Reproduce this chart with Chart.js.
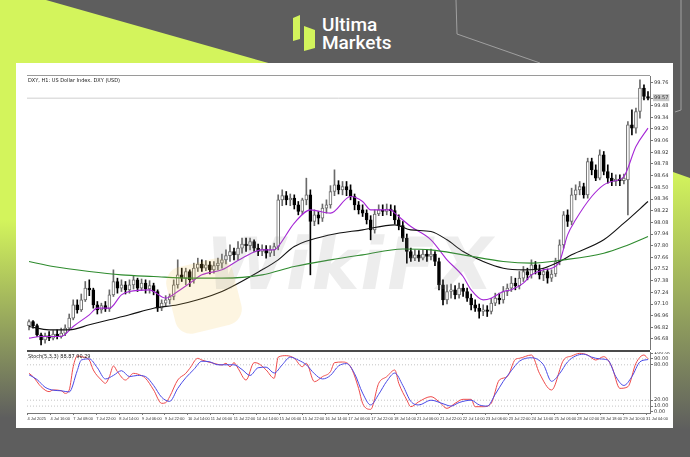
<!DOCTYPE html>
<html>
<head>
<meta charset="utf-8">
<script src="https://cdn.jsdelivr.net/npm/chart.js@4.4.1/dist/chart.umd.min.js"></script>
<style>
  html, body { margin: 0; padding: 0; }
  body { width: 690px; height: 457px; position: relative; overflow: hidden; background: #5e5e5e; font-family: 'DejaVu Sans', sans-serif; }
  #bg { position: absolute; left: 0; top: 0; }
  #panel { position: absolute; left: 16px; top: 63px; width: 657px; height: 365px; background: #fff; }
  canvas { position: absolute; }
  .rule { position: absolute; }
  .tiny { position: absolute; font-size: 10px; color: #222; white-space: nowrap; transform: scale(0.5); transform-origin: 0 0; }
  #wm { position: absolute; left: 206px; top: 222px; font: bold 72px 'DejaVu Sans', sans-serif; color: rgba(140,140,140,0.16); transform: skewX(-10deg); letter-spacing: 1px; pointer-events: none; }
  #wmIcon { position: absolute; left: 170px; top: 262px; width: 68px; height: 68px; border-radius: 16px; background: rgba(240,190,70,0.16); transform: rotate(-14deg); pointer-events: none; }
</style>
</head>
<body>
<svg id="bg" width="690" height="457">
  <defs>
    <linearGradient id="limeL" x1="0" y1="0" x2="0" y2="440" gradientUnits="userSpaceOnUse">
      <stop offset="0" stop-color="#d3f45c"/>
      <stop offset="0.5" stop-color="#d3f45c"/>
      <stop offset="0.95" stop-color="#5e5e5e"/>
    </linearGradient>
    <linearGradient id="limeR" x1="0" y1="172" x2="0" y2="430" gradientUnits="userSpaceOnUse">
      <stop offset="0" stop-color="#d3f45c"/>
      <stop offset="1" stop-color="#5e5e5e"/>
    </linearGradient>
  </defs>
  <polygon points="0,0 46,0 272,64 16,64 16,440 0,440" fill="url(#limeL)"/>
  <polygon points="673,172 690,178 690,440 673,440" fill="url(#limeR)"/>
  <polyline points="456,0 457,34 540,63" fill="none" stroke="#a0a0a0" stroke-width="1"/>
  <polyline points="681,0 681,110 675,112" fill="none" stroke="#a0a0a0" stroke-width="1"/>
  <polygon points="293,18 300,15 300,39 293,41" fill="#d3f45c"/>
  <polygon points="304,26 315,30 315,48 304,51" fill="#d3f45c"/>
  <text x="322" y="31" font-family="Roboto" font-weight="500" font-size="19" fill="#fff">Ultima</text>
  <text x="322" y="49" font-family="Roboto" font-weight="500" font-size="19" fill="#fff">Markets</text>
</svg>
<div id="panel"></div>
<div class="rule" style="left:27px;top:75px;width:623px;height:1px;background:#9a9a9a"></div>
<div class="rule" style="left:27px;top:350px;width:623px;height:2px;background:#4a4a4a"></div>
<canvas id="main" width="643" height="274" style="left:27px;top:76px"></canvas>
<canvas id="stoch" width="643" height="72" style="left:27px;top:352px"></canvas>
<div class="tiny" style="left:28px;top:77px">DXY, H1: US Dollar Index. DXY (USD)</div>
<div class="tiny" style="left:28px;top:353px">Stoch(5,3,3) 88.87 90.29</div>
<div id="wmIcon"></div>
<div id="wm">WikiFX</div>

<script>
// H1 candles
const opens = [
  96.84, 96.89, 96.84, 96.73, 96.67, 96.72, 96.69, 96.74, 96.71, 96.75,
  96.81, 96.93, 97.09, 97.03, 97.15, 97.29, 97.27, 97.09, 97.03, 97.08,
  97.04, 97.21, 97.37, 97.29, 97.33, 97.27, 97.33, 97.39, 97.29, 97.35,
  97.28, 97.32, 97.25, 97.05, 97.11, 97.15, 97.19, 97.33, 97.45, 97.41,
  97.49, 97.39, 97.53, 97.58, 97.53, 97.57, 97.51, 97.56, 97.59, 97.63,
  97.68, 97.73, 97.69, 97.77, 97.82, 97.80, 97.85, 97.77, 97.73, 97.76,
  97.71, 97.75, 97.79, 98.35, 98.40, 98.35, 98.37, 98.29, 98.21, 98.35,
  98.41, 98.09, 98.17, 98.13, 98.25, 98.29, 98.45, 98.53, 98.47, 98.51,
  98.47, 98.39, 98.29, 98.23, 98.19, 98.11, 97.99, 98.18, 98.23, 98.21,
  98.24, 98.22, 98.11, 98.04, 97.89, 97.73, 97.65, 97.69, 97.65, 97.70,
  97.67, 97.70, 97.61, 97.33, 97.15, 97.25, 97.27, 97.21, 97.29, 97.25,
  97.17, 97.09, 97.05, 97.01, 97.03, 97.01, 97.11, 97.17, 97.15, 97.25,
  97.29, 97.35, 97.32, 97.41, 97.49, 97.45, 97.57, 97.51, 97.45, 97.49,
  97.41, 97.46, 97.61, 97.81, 98.17, 98.09, 98.41, 98.47, 98.51, 98.41,
  98.81, 98.71, 98.61, 98.89, 98.69, 98.61, 98.57, 98.60, 98.58, 98.59,
  99.25, 99.21, 99.41, 99.69, 99.59
];
const highs = [
  96.91, 96.90, 96.86, 96.75, 96.75, 96.77, 96.78, 96.79, 96.81, 96.85,
  96.98, 97.15, 97.15, 97.22, 97.37, 97.39, 97.29, 97.13, 97.11, 97.13,
  97.27, 97.51, 97.41, 97.39, 97.37, 97.39, 97.44, 97.41, 97.40, 97.39,
  97.38, 97.35, 97.27, 97.15, 97.20, 97.22, 97.39, 97.63, 97.53, 97.53,
  97.51, 97.59, 97.65, 97.63, 97.62, 97.61, 97.61, 97.65, 97.70, 97.75,
  97.81, 97.77, 97.85, 97.89, 97.89, 97.89, 97.87, 97.82, 97.81, 97.80,
  97.80, 97.83, 98.41, 98.47, 98.45, 98.42, 98.41, 98.33, 98.37, 98.61,
  98.47, 98.23, 98.21, 98.30, 98.35, 98.52, 98.71, 98.58, 98.57, 98.57,
  98.53, 98.42, 98.33, 98.29, 98.23, 98.16, 98.23, 98.29, 98.29, 98.30,
  98.29, 98.28, 98.17, 98.09, 97.94, 97.77, 97.75, 97.74, 97.75, 97.75,
  97.76, 97.73, 97.65, 97.39, 97.33, 97.34, 97.32, 97.35, 97.34, 97.29,
  97.22, 97.15, 97.10, 97.09, 97.08, 97.17, 97.23, 97.23, 97.31, 97.34,
  97.43, 97.41, 97.49, 97.55, 97.53, 97.63, 97.61, 97.57, 97.53, 97.52,
  97.51, 97.65, 97.87, 98.21, 98.23, 98.49, 98.53, 98.57, 98.55, 98.85,
  98.85, 98.77, 98.95, 98.93, 98.77, 98.67, 98.65, 98.65, 98.66, 99.29,
  99.43, 99.45, 99.79, 99.73, 99.65
];
const lows = [
  96.79, 96.81, 96.71, 96.61, 96.63, 96.66, 96.67, 96.68, 96.69, 96.72,
  96.79, 96.91, 96.99, 97.01, 97.13, 97.20, 97.05, 96.98, 96.99, 97.01,
  97.01, 97.19, 97.23, 97.25, 97.22, 97.23, 97.28, 97.25, 97.26, 97.23,
  97.23, 97.21, 97.01, 97.02, 97.08, 97.10, 97.15, 97.29, 97.37, 97.33,
  97.31, 97.35, 97.49, 97.49, 97.50, 97.46, 97.47, 97.51, 97.53, 97.58,
  97.61, 97.63, 97.63, 97.71, 97.73, 97.75, 97.73, 97.68, 97.68, 97.65,
  97.67, 97.68, 97.75, 98.28, 98.29, 98.28, 98.24, 98.17, 98.18, 98.29,
  97.45, 98.04, 98.06, 98.09, 98.19, 98.25, 98.40, 98.42, 98.41, 98.40,
  98.35, 98.23, 98.18, 98.15, 98.06, 97.87, 97.95, 98.16, 98.16, 98.17,
  98.16, 98.06, 97.99, 97.85, 97.59, 97.61, 97.62, 97.61, 97.63, 97.61,
  97.63, 97.56, 97.27, 97.09, 97.10, 97.17, 97.16, 97.17, 97.19, 97.13,
  97.03, 97.01, 96.93, 96.96, 96.95, 96.98, 97.08, 97.10, 97.11, 97.20,
  97.25, 97.27, 97.28, 97.37, 97.39, 97.41, 97.46, 97.40, 97.38, 97.35,
  97.37, 97.43, 97.57, 97.77, 98.03, 98.05, 98.35, 98.41, 98.37, 98.37,
  98.65, 98.58, 98.59, 98.65, 98.55, 98.52, 98.52, 98.52, 98.54, 98.17,
  99.13, 99.15, 99.33, 99.55, 99.55
];
const closes = [
  96.89, 96.84, 96.73, 96.67, 96.72, 96.69, 96.74, 96.71, 96.75, 96.81,
  96.93, 97.09, 97.03, 97.15, 97.29, 97.27, 97.09, 97.03, 97.08, 97.04,
  97.21, 97.37, 97.29, 97.33, 97.27, 97.33, 97.39, 97.29, 97.35, 97.28,
  97.32, 97.25, 97.05, 97.11, 97.15, 97.19, 97.33, 97.45, 97.41, 97.49,
  97.39, 97.53, 97.58, 97.53, 97.57, 97.51, 97.56, 97.59, 97.63, 97.68,
  97.73, 97.69, 97.77, 97.82, 97.80, 97.85, 97.77, 97.73, 97.76, 97.71,
  97.75, 97.79, 98.35, 98.40, 98.35, 98.37, 98.29, 98.21, 98.35, 98.41,
  98.09, 98.17, 98.13, 98.25, 98.29, 98.45, 98.53, 98.47, 98.51, 98.47,
  98.39, 98.29, 98.23, 98.19, 98.11, 97.99, 98.18, 98.23, 98.21, 98.24,
  98.22, 98.11, 98.04, 97.89, 97.73, 97.65, 97.69, 97.65, 97.70, 97.67,
  97.70, 97.61, 97.33, 97.15, 97.25, 97.27, 97.21, 97.29, 97.25, 97.17,
  97.09, 97.05, 97.01, 97.03, 97.01, 97.11, 97.17, 97.15, 97.25, 97.29,
  97.35, 97.32, 97.41, 97.49, 97.45, 97.57, 97.51, 97.45, 97.49, 97.41,
  97.46, 97.61, 97.81, 98.17, 98.09, 98.41, 98.47, 98.51, 98.41, 98.81,
  98.71, 98.61, 98.89, 98.69, 98.61, 98.57, 98.60, 98.58, 98.61, 99.25,
  99.21, 99.41, 99.69, 99.59, 99.57
];

// moving averages, sampled as [bar index, price]
const maFast = [[0,96.69],[3,96.71],[8,96.71],[11,96.83],[15,96.97],[17,97.05],[20,97.05],[23,97.21],[25,97.25],[30,97.27],[31,97.25],[34,97.17],[37,97.25],[40,97.35],[43,97.45],[48,97.51],[53,97.65],[58,97.75],[61,97.75],[62,97.79],[66,98.07],[70,98.23],[75,98.19],[80,98.39],[83,98.33],[85,98.23],[90,98.23],[91,98.19],[95,98.03],[100,97.87],[104,97.63],[108,97.43],[110,97.27],[113,97.15],[115,97.17],[118,97.25],[120,97.27],[123,97.35],[125,97.45],[128,97.51],[130,97.53],[132,97.61],[134,97.93],[136,98.11],[140,98.39],[143,98.53],[145,98.57],[148,98.63],[151,98.99],[154,99.21]];
const maMid = [[0,96.83],[5,96.79],[10,96.79],[15,96.85],[20,96.91],[25,96.97],[31,97.05],[37,97.09],[42,97.15],[48,97.25],[58,97.51],[62,97.63],[66,97.79],[75,97.93],[83,97.99],[91,98.05],[95,97.99],[100,97.97],[104,97.87],[108,97.73],[113,97.61],[118,97.53],[123,97.51],[128,97.53],[132,97.61],[135,97.69],[143,97.87],[148,98.07],[154,98.33]];
const maSlow = [[0,97.61],[6,97.55],[15,97.49],[23,97.45],[31,97.43],[40,97.41],[48,97.41],[58,97.45],[66,97.55],[75,97.63],[83,97.69],[93,97.76],[100,97.75],[108,97.69],[118,97.61],[125,97.59],[133,97.63],[143,97.71],[148,97.79],[154,97.91]];

// stochastic %K (red) and %D (blue)
const stochK = [[0,65.5],[1,59.9],[3,42.9],[5,34.5],[6,37.3],[8,36.2],[9,31.6],[10,37.3],[11,76.8],[12,94.9],[13,93.8],[15,88.1],[16,71.2],[18,54.2],[19,48.6],[20,59.9],[21,78],[22,68.4],[24,54.2],[26,65.5],[28,61.6],[29,57.1],[31,37.3],[33,14.7],[34,15.8],[35,26],[37,54.2],[39,65.5],[40,74],[42,91],[43,88.1],[46,82.5],[48,79.7],[49,82.5],[50,76.8],[51,83.6],[52,74],[54,54.2],[56,83.6],[57,82.5],[59,71.2],[61,57.1],[62,93],[64,95.5],[66,91],[68,76.8],[69,82.5],[71,51.4],[73,59.9],[75,68.4],[76,83.6],[78,84.7],[80,76.8],[82,40.1],[83,14.7],[85,4.5],[87,48.6],[89,59.9],[91,71.2],[92,48.6],[94,20.3],[95,9],[97,17.5],[100,26],[102,17.5],[104,6.2],[106,14.7],[108,21.5],[110,21.5],[111,9],[113,9],[115,14.7],[117,54.2],[119,59.9],[121,89.2],[122,91],[125,96.6],[127,65.5],[130,37.3],[133,88.1],[135,94.9],[137,99.4],[139,96.6],[141,88.1],[143,93.8],[145,76.8],[147,40.1],[149,42.9],[151,82.5],[153,96.6],[154,90.3]];
const stochD = [[0,63],[2,55],[4,42],[6,37],[8,36],[10,34],[12,70],[13,88],[15,90],[17,75],[19,56],[21,62],[23,70],[25,60],[27,62],[29,60],[31,45],[33,25],[35,18],[37,40],[39,58],[41,72],[43,86],[45,85],[47,80],[49,80],[51,80],[53,72],[55,62],[57,75],[59,76],[61,66],[63,80],[65,93],[67,88],[69,80],[71,65],[73,56],[75,62],[77,78],[79,82],[81,65],[83,32],[85,12],[87,30],[89,52],[91,66],[93,45],[95,18],[97,12],[100,20],[103,14],[105,10],[107,16],[110,20],[112,12],[114,10],[116,30],[118,52],[120,70],[122,86],[125,92],[128,80],[130,52],[132,65],[134,85],[136,95],[138,98],[140,93],[142,90],[144,88],[146,60],[148,45],[150,60],[152,85],[154,88.9]];

const priceTicks = [96.68, 96.82, 96.96, 97.10, 97.24, 97.38, 97.52, 97.66, 97.80, 97.94, 98.08, 98.22, 98.36, 98.50, 98.64, 98.78, 98.92, 99.06, 99.20, 99.34, 99.48, 99.57, 99.76];
const stochTicks = [0, 10, 20, 80, 90, 100];
const stochLevels = [10, 20, 80, 90];
const timeLabels = ['4 Jul 2025', '4 Jul 16:00', '7 Jul 08:00', '7 Jul 22:00', '8 Jul 14:00', '9 Jul 06:00', '9 Jul 22:00',
  '10 Jul 14:00', '11 Jul 06:00', '11 Jul 22:00', '14 Jul 14:00', '15 Jul 06:00', '15 Jul 22:00', '16 Jul 14:00',
  '17 Jul 06:00', '17 Jul 22:00', '18 Jul 14:00', '21 Jul 06:00', '21 Jul 22:00', '22 Jul 14:00', '23 Jul 06:00',
  '23 Jul 22:00', '24 Jul 14:00', '25 Jul 06:00', '28 Jul 02:00', '28 Jul 18:00', '29 Jul 10:00', '31 Jul 04:00'];

const N = closes.length;
const last = closes[N - 1];
const up = i => closes[i] >= opens[i];
const pts = arr => arr.map(([x, y]) => ({ x, y }));
const FONT = { family: 'DejaVu Sans', size: 5 };

function lineDS(data, color, width = 1) {
  return { type: 'line', data: pts(data), borderColor: color, borderWidth: width, pointRadius: 0,
    cubicInterpolationMode: 'monotone', fill: false, order: 0 };
}

function rightAxis(min, max, ticks, extra = {}) {
  return {
    position: 'right', min, max,
    afterBuildTicks: s => { s.ticks = ticks.map(v => ({ value: v })); },
    afterFit: s => { s.width = 20; s.paddingTop = 0; s.paddingBottom = 0; },
    grid: { drawOnChartArea: false, tickLength: 3, color: '#777' },
    border: { color: '#777' },
    ticks: { font: FONT, color: '#333', padding: 1, autoSkip: false, callback: v => v.toFixed(2), ...extra },
  };
}

const xAxis = (extra = {}) => ({ type: 'linear', min: -0.5, max: N - 0.5, offset: false, ...extra });

const baseOpts = () => ({
  responsive: false, animation: false, maintainAspectRatio: false,
  layout: { padding: 0 },
  plugins: { legend: { display: false }, tooltip: { enabled: false } },
});

// price chart
new Chart(document.getElementById('main'), {
  type: 'line',
  data: {
    datasets: [
      { data: [{ x: -0.5, y: last }, { x: N - 0.5, y: last }], borderColor: '#cfcfcf', borderWidth: 1, pointRadius: 0, order: 5 },
      lineDS(maSlow, '#2e8b2e', 1.1),
      lineDS(maMid, '#111111', 1.1),
      lineDS(maFast, '#a526d6', 1.1),
      { type: 'bar', data: closes.map((c, i) => ({ x: i, y: [lows[i], highs[i]] })), grouped: false, barThickness: 1,
        backgroundColor: ctx => up(ctx.dataIndex) ? '#6a6a6a' : '#000', order: 3 },
      { type: 'bar', data: closes.map((c, i) => ({ x: i, y: [opens[i], c] })), grouped: false, barThickness: 3, minBarLength: 1,
        borderSkipped: false, borderWidth: 1,
        backgroundColor: ctx => up(ctx.dataIndex) ? '#ffffff' : '#000',
        borderColor: ctx => up(ctx.dataIndex) ? '#6a6a6a' : '#000', order: 2 },
    ],
  },
  options: {
    ...baseOpts(),
    scales: {
      x: xAxis({ display: false }),
      y: rightAxis(96.548, 99.836, priceTicks, {
        showLabelBackdrop: ctx => ctx.tick && ctx.tick.value === last,
        backdropColor: '#c8c8c8',
        backdropPadding: { top: 1, bottom: 0, left: 1, right: 1 },
      }),
    },
  },
});

// stochastic panel
new Chart(document.getElementById('stoch'), {
  type: 'line',
  data: {
    datasets: [
      ...stochLevels.map(v => ({ data: [{ x: -0.5, y: v }, { x: N - 0.5, y: v }], borderColor: '#c4c4c4', borderWidth: 1,
        borderDash: [1, 2], pointRadius: 0, order: 5 })),
      lineDS(stochD, '#4a4ae6', 1),
      lineDS(stochK, '#ee4a4a', 1),
    ],
  },
  options: {
    ...baseOpts(),
    scales: {
      x: xAxis({
        afterBuildTicks: s => { s.ticks = timeLabels.map((t, k) => ({ value: -0.37 + k * 5.7 })); },
        afterFit: s => { s.height = 11; s.paddingLeft = 0; s.paddingRight = 0; },
        grid: { drawOnChartArea: false, tickLength: 2, color: '#777' },
        border: { color: '#777' },
        ticks: { font: { family: "'Liberation Sans Narrow', 'Liberation Sans', sans-serif", size: 4 }, color: '#333',
          padding: 1, maxRotation: 0, autoSkip: false, align: 'start', callback: (v, k) => timeLabels[k] },
      }),
      y: rightAxis(-1.7, 101.7, stochTicks),
    },
  },
});
</script>
</body>
</html>
